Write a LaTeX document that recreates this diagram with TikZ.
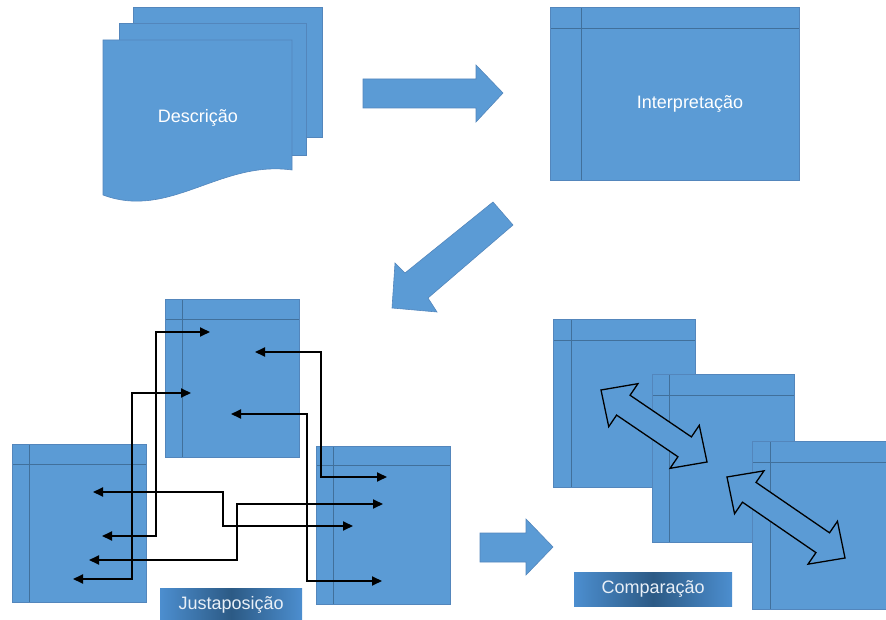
\documentclass[tikz,border=0pt]{standalone}
\usepackage{fontspec}
\setmainfont{Liberation Sans}
\usetikzlibrary{arrows.meta,calc}

\definecolor{boxblue}{HTML}{5B9BD5}
\definecolor{boxedge}{HTML}{5386BC}
\definecolor{gridline}{HTML}{41709B}
\definecolor{lbledge}{HTML}{4C8ECF}
\definecolor{lblmid}{HTML}{2C5A85}
\definecolor{lbltext}{HTML}{E8EFF7}

% block arrow with a head at both ends, from tip #1 to tip #2
\newcommand\twowayarrow[2]{%
  \coordinate (#1h) at ($(#1)!27pt!(#2)$);
  \coordinate (#2h) at ($(#2)!27pt!(#1)$);
  \draw[twoway] (#1) -- ($(#1h)!26pt!90:(#2)$) -- ($(#1h)!12pt!90:(#2)$)
    -- ($(#2h)!12pt!-90:(#1)$) -- ($(#2h)!26pt!-90:(#1)$) -- (#2)
    -- ($(#2h)!26pt!90:(#1)$) -- ($(#2h)!12pt!90:(#1)$)
    -- ($(#1h)!12pt!-90:(#2)$) -- ($(#1h)!26pt!-90:(#2)$) -- cycle;}

\begin{document}
\begin{tikzpicture}[x=1pt,y=-1pt,
  shapefill/.style={fill=boxblue, draw=boxedge, line width=0.6pt, line join=miter},
  storage/.style n args={4}{shapefill, rectangle, inner sep=0pt, anchor=north west,
    minimum width=#1, minimum height=#2,
    path picture={
      \draw[gridline, line width=1pt]
        ([xshift=#3]path picture bounding box.north west) -- ([xshift=#3]path picture bounding box.south west);
      \draw[gridline, line width=1pt]
        ([yshift=-#4]path picture bounding box.north west) -- ([yshift=-#4]path picture bounding box.north east);}},
  caption/.style={text=white, font=\fontsize{18}{21}\selectfont, inner sep=0pt},
  tag/.style={rectangle, inner sep=0pt, anchor=north west, minimum width=#1, minimum height=33pt,
    text=lbltext, font=\fontsize{18}{21}\selectfont,
    left color=lbledge, right color=lbledge, middle color=lblmid},
  link/.style={line width=1.9pt, {Triangle[length=10pt,width=9pt]}-{Triangle[length=10pt,width=9pt]}},
  twoway/.style={fill=boxblue, draw=black, line width=1.3pt, line join=miter}
]
\useasboundingbox (0,0) rectangle (886,620);

% --- stacked documents ---
\path[shapefill] (133,7) rectangle (322,137);
\path[shapefill] (119,23) rectangle (306,155);
\path[shapefill] (103,40) -- (292,40) -- (292,170)
  .. controls (220,160) and (170,220) .. (103,195) -- cycle;
\node[caption] (desc) at (198,118) {Descrição};

% --- interpretation ---
\node[storage={249pt}{173pt}{31pt}{21pt}] (interp) at (550,7) {};
\node[caption] (interptxt) at (690,104) {Interpretação};

% --- block arrows between the stages ---
\path[shapefill] (363,79) -- (476,79) -- (476,65) -- (503,93) -- (476,122) -- (476,108) -- (363,108) -- cycle;
\path[shapefill] (493,202) -- (513,225) -- (428,298) -- (437,312) -- (392,308) -- (395,263) -- (405,273) -- cycle;
\path[shapefill] (480,533) -- (526,533) -- (526,519) -- (553,547) -- (526,575) -- (526,562) -- (480,562) -- cycle;

% --- juxtaposition ---
\node[storage={134pt}{158pt}{17pt}{20pt}] (jtop) at (165,299) {};
\node[storage={134pt}{158pt}{17pt}{20pt}] (jleft) at (12,444) {};
\node[storage={134pt}{158pt}{17pt}{19pt}] (jright) at (316,446) {};

\coordinate (a1) at (102,536); \coordinate (b1) at (210,332);
\coordinate (a2) at (73,579);  \coordinate (b2) at (191,393);
\coordinate (a3) at (255,352); \coordinate (b3) at (387,477);
\coordinate (a4) at (231,414); \coordinate (b4) at (382,581);
\coordinate (a5) at (93,492);  \coordinate (b5) at (353,526);
\coordinate (a6) at (89,560);  \coordinate (b6) at (383,504);
\draw[link] (a1) -- ++(54,0) |- (b1);
\draw[link] (a2) -- ++(59,0) |- (b2);
\draw[link] (a3) -- ++(66,0) |- (b3);
\draw[link] (a4) -- ++(76,0) |- (b4);
\draw[link] (a5) -- ++(130,0) |- (b5);
\draw[link] (a6) -- ++(148,0) |- (b6);

\node[tag=142pt] (juxt) at (160,588) {Justaposição};

% --- comparison ---
\node[storage={142pt}{168pt}{18pt}{21pt}] (ca) at (553,319) {};
\node[storage={142pt}{168pt}{17pt}{21pt}] (cb) at (652,374) {};
\node[storage={134pt}{168pt}{18pt}{21pt}] (cc) at (752,441) {};

\coordinate (p1) at (601,390); \coordinate (q1) at (707,462);
\coordinate (p2) at (727,477); \coordinate (q2) at (845,558);
\twowayarrow{p1}{q1}
\twowayarrow{p2}{q2}

\node[tag=158pt, minimum height=34pt] (comp) at (574,572) {Comparação};
\end{tikzpicture}
\end{document}
